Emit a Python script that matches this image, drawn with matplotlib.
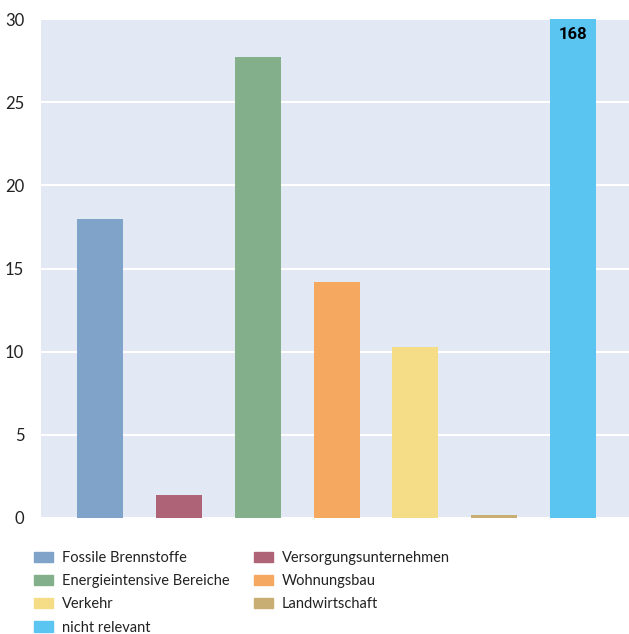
import matplotlib.pyplot as plt
from matplotlib.patches import Patch

categories = ['Fossile Brennstoffe', 'Versorgungsunternehmen', 'Energieintensive Bereiche',
              'Wohnungsbau', 'Verkehr', 'Landwirtschaft', 'nicht relevant']
values = [18.0, 1.4, 27.7, 14.2, 10.3, 0.2, 168]
colors = ['#7fa3c9', '#ae6476', '#83b08a', '#f5a860', '#f5dc87', '#c9ae74', '#5bc5f2']
yticks = [0, 5, 10, 15, 20, 25, 30]

plt.rcParams['font.family'] = ['Lato', 'DejaVu Sans']

W, H = 629, 634
fig = plt.figure(figsize=(W / 100, H / 100), dpi=100)
ax = fig.add_axes([41 / W, 116 / H, 588 / W, 499 / H])
ax.set_facecolor('#e3e8f5')

x = list(range(len(categories)))
ax.bar(x, values, width=0.584, color=colors, zorder=2)

# the last bar runs far above the axis, so its value is written inside it
ax.text(x[-1], 29.5, str(values[-1]), ha='center', va='top', fontsize=12,
        fontweight='bold', family='Roboto', color='black', zorder=3)

ax.set_ylim(0, 30)
ax.set_xlim(-0.75, 6.71)
ax.set_yticks(yticks)
ax.set_xticks([])
ax.tick_params(axis='y', length=0, pad=12, labelsize=12, labelcolor='#222222')
ax.yaxis.grid(True, color='white', linewidth=1.5, zorder=1)
ax.set_axisbelow(True)
for s in ax.spines.values():
    s.set_visible(False)

# legend filled row by row, so reorder for matplotlib's column filling
order = [0, 2, 4, 6, 1, 3, 5]
handles = [Patch(color=colors[i], label=categories[i]) for i in order]
fig.legend(handles=handles, ncol=2, loc='upper left', frameon=False,
           bbox_to_anchor=(34 / W, 1 - 551 / H), fontsize=10.5, borderpad=0,
           borderaxespad=0, handlelength=1.3, handleheight=0.7, handletextpad=0.6,
           labelspacing=0.63, columnspacing=1.7, labelcolor='#222222')

fig.savefig('out.png', dpi=100)
